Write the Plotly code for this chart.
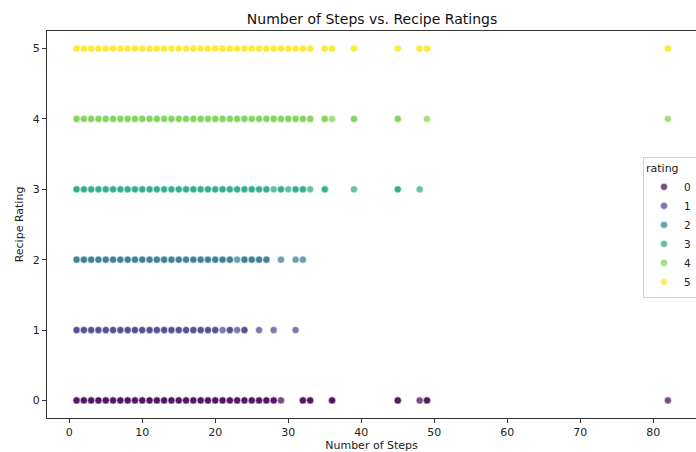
import numpy as np
import plotly.graph_objects as go

# Number of steps per rating; counts = how many recipes share that point (overlap)
ratings = [0, 1, 2, 3, 4, 5]
steps_r0 = [1, 2, 3, 4, 5, 6, 7, 8, 9, 10, 11, 12, 13, 14, 15, 16, 17, 18, 19, 20, 21, 22, 23, 24, 25, 26, 27, 28, 29, 32, 33, 36, 45, 48, 49, 82]
count_r0 = [2, 2, 2, 2, 2, 2, 2, 2, 2, 2, 2, 2, 2, 2, 2, 2, 2, 2, 2, 2, 2, 2, 2, 2, 2, 2, 2, 2, 1, 2, 2, 2, 2, 1, 2, 1]
steps_r1 = [1, 2, 3, 4, 5, 6, 7, 8, 9, 10, 11, 12, 13, 14, 15, 16, 17, 18, 19, 20, 21, 22, 23, 24, 26, 28, 31]
count_r1 = [2, 2, 2, 2, 2, 2, 2, 2, 2, 2, 2, 2, 2, 2, 2, 2, 2, 2, 2, 2, 1, 2, 1, 2, 1, 1, 1]
steps_r2 = [1, 2, 3, 4, 5, 6, 7, 8, 9, 10, 11, 12, 13, 14, 15, 16, 17, 18, 19, 20, 21, 22, 23, 24, 25, 26, 27, 29, 31, 32]
count_r2 = [2, 2, 2, 2, 2, 2, 2, 2, 2, 2, 2, 2, 2, 2, 2, 2, 2, 2, 2, 2, 2, 2, 1, 2, 2, 2, 2, 1, 1, 1]
steps_r3 = [1, 2, 3, 4, 5, 6, 7, 8, 9, 10, 11, 12, 13, 14, 15, 16, 17, 18, 19, 20, 21, 22, 23, 24, 25, 26, 27, 28, 29, 30, 31, 32, 33, 35, 39, 45, 48]
count_r3 = [2, 2, 2, 2, 2, 2, 2, 2, 2, 2, 2, 2, 2, 2, 2, 2, 2, 2, 2, 2, 2, 2, 2, 2, 2, 2, 2, 1, 2, 1, 2, 2, 1, 2, 1, 2, 1]
steps_r4 = [1, 2, 3, 4, 5, 6, 7, 8, 9, 10, 11, 12, 13, 14, 15, 16, 17, 18, 19, 20, 21, 22, 23, 24, 25, 26, 27, 28, 29, 30, 31, 32, 33, 35, 36, 39, 45, 49, 82]
count_r4 = [2, 2, 2, 2, 2, 2, 2, 2, 2, 2, 2, 2, 2, 2, 2, 2, 2, 2, 2, 2, 2, 2, 2, 2, 2, 2, 2, 2, 2, 2, 2, 2, 2, 2, 1, 2, 2, 1, 1]
steps_r5 = [1, 2, 3, 4, 5, 6, 7, 8, 9, 10, 11, 12, 13, 14, 15, 16, 17, 18, 19, 20, 21, 22, 23, 24, 25, 26, 27, 28, 29, 30, 31, 32, 33, 35, 36, 39, 45, 48, 49, 82]
count_r5 = [2, 2, 2, 2, 2, 2, 2, 2, 2, 2, 2, 2, 2, 2, 2, 2, 2, 2, 2, 2, 2, 2, 2, 2, 2, 2, 2, 2, 2, 2, 2, 2, 2, 2, 2, 2, 2, 2, 2, 2]

x_ticks = [0, 10, 20, 30, 40, 50, 60, 70, 80]
y_ticks = [0, 1, 2, 3, 4, 5]

steps_all = [steps_r0, steps_r1, steps_r2, steps_r3, steps_r4, steps_r5]
counts_all = [count_r0, count_r1, count_r2, count_r3, count_r4, count_r5]
colors = ["#440154", "#414487", "#2a788e", "#22a884", "#7ad151", "#fde725"]

fig = go.Figure()
for r, s, c, col in zip(ratings, steps_all, counts_all, colors):
    xs = np.repeat(s, c)
    fig.add_trace(go.Scatter(
        x=xs, y=[r] * len(xs), mode="markers", name=str(r),
        marker=dict(color=col, size=7.2, opacity=0.7,
                    line=dict(color="white", width=0.6)),
    ))

font = "DejaVu Sans, sans-serif"
fig.update_layout(
    width=696, height=452,
    margin=dict(l=47, r=0, t=31, b=34, autoexpand=False),
    paper_bgcolor="white", plot_bgcolor="white",
    font=dict(family=font, size=11, color="#222"),
    title=dict(text="Number of Steps vs. Recipe Ratings", x=372 / 696, xanchor="center",
               y=1 - 19 / 452, yanchor="middle", font=dict(size=14, color="#111")),
    showlegend=True,
    legend=dict(title=dict(text="rating", font=dict(size=11), side="top"),
                x=(643 - 47) / 649, xanchor="left", y=(418 - 157) / 387, yanchor="top",
                bordercolor="#d0d0d0", borderwidth=1, bgcolor="rgba(255,255,255,0.8)",
                font=dict(size=10.5), itemsizing="trace", itemwidth=30, tracegroupgap=0),
    xaxis=dict(range=[-3.05, 85.85], tickvals=x_ticks, showgrid=False, zeroline=False,
               showline=True, linecolor="#333", linewidth=1, mirror=True, automargin=False,
               ticks="outside", ticklen=4, tickcolor="#333", tickfont=dict(size=11),
               title=dict(text="Number of Steps", font=dict(size=11), standoff=8)),
    yaxis=dict(range=[-0.25, 5.25], tickvals=y_ticks, showgrid=False, zeroline=False,
               showline=True, linecolor="#333", linewidth=1, automargin=False,
               ticks="outside", ticklen=4, tickcolor="#333", tickfont=dict(size=11),
               title=dict(text="Recipe Rating", font=dict(size=11), standoff=6)),
)
fig.write_html("out.html", config={"displayModeBar": False},
               post_script="document.body.style.margin='0';document.body.style.overflow='hidden';")
